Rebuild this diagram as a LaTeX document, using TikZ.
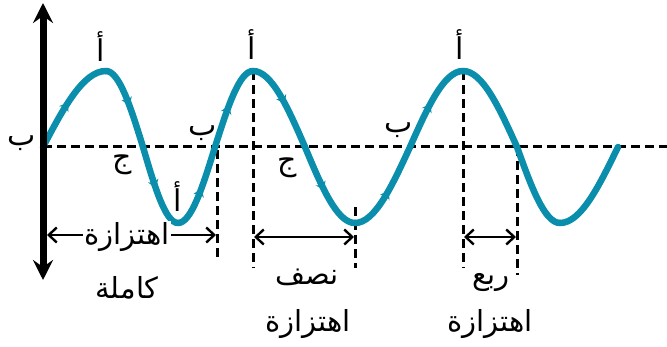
\documentclass[tikz,border=0pt]{standalone}
\usepackage{fontspec}
\newfontfamily\arabicfont[Script=Arabic]{DejaVu Sans}
\TeXXeTstate=1
\usetikzlibrary{arrows.meta,decorations.markings}
\definecolor{wave}{RGB}{10,142,172}

\begin{document}
\begin{tikzpicture}[x=1pt, y=-1pt,
  lbl/.style={font=\arabicfont\fontsize{29}{32}\selectfont, inner sep=1pt, fill=white},
  letter/.style={font=\arabicfont\fontsize{30}{32}\selectfont, inner sep=0pt},
  guide/.style={line width=3pt, dash pattern=on 9pt off 5pt},
  span/.style={line width=2.4pt, {Straight Barb[length=8pt,width=15pt]}-{Straight Barb[length=8pt,width=15pt]}},
  wline/.style={draw=wave, line width=6.5pt, line cap=round},
  mid/.style={postaction={decorate}, decoration={markings,
    mark=at position 0.5 with {\arrow[wave]{Stealth[length=8pt,width=11pt]}}}},
  plain/.style={}]
  \useasboundingbox (0,0) rectangle (667,347);

  % wave points
  \coordinate (z0) at (43,147);  \coordinate (p1) at (106,71);
  \coordinate (z1) at (143,147); \coordinate (t1) at (178,223);
  \coordinate (z2) at (215,147); \coordinate (p2) at (253,71);
  \coordinate (z3) at (305,147); \coordinate (t2) at (355,223);
  \coordinate (z4) at (410,147); \coordinate (p3) at (463,71);
  \coordinate (z5) at (517,147); \coordinate (t3) at (560,223);
  \coordinate (z6) at (618,147);

  % axes and guides
  \coordinate (axend) at (667,147);
  \draw[guide] (z0) -- (axend);
  \coordinate (g1a) at (217,150); \coordinate (g1b) at (217,258);
  \coordinate (g2b) at (253,268);
  \coordinate (g3a) at (355,207); \coordinate (g3b) at (355,268);
  \coordinate (g4b) at (463,268);
  \coordinate (g5b) at (517,275);
  \draw[guide] (g1a) -- (g1b);
  \draw[guide] (p2) -- (g2b);
  \draw[guide] (g3a) -- (g3b);
  \draw[guide] (p3) -- (g4b);
  \draw[guide] (z5) -- (g5b);

  \foreach \a/\op/\b/\m in {z0/sin/p1/mid, p1/cos/z1/mid, z1/sin/t1/mid, t1/cos/z2/mid,
      z2/sin/p2/mid, p2/cos/z3/mid, z3/sin/t2/mid, t2/cos/z4/mid,
      z4/sin/p3/mid, p3/cos/z5/plain, z5/sin/t3/plain, t3/cos/z6/plain}
    \draw[wline, \m] (\a) \op (\b);

  \coordinate (ytop) at (43,3);
  \coordinate (ybot) at (43,280);
  \draw[line width=7pt, {Stealth[length=20pt,width=20pt,inset=7pt]}-{Stealth[length=20pt,width=20pt,inset=7pt]}] (ybot) -- (ytop);

  % letters
  \node[letter] (a1) at (101,47) {\beginR أ\endR};
  \node[letter] (a2) at (252,45) {\beginR أ\endR};
  \node[letter] (a3) at (460,45) {\beginR أ\endR};
  \node[letter] (a4) at (178,197) {\beginR أ\endR};
  \node[letter] (b1) at (22,143) {\beginR ب\endR};
  \node[letter] (b2) at (203,133) {\beginR ب\endR};
  \node[letter] (b3) at (399,130) {\beginR ب\endR};
  \node[letter] (c1) at (122,165) {\beginR ج\endR};
  \node[letter] (c2) at (287,168) {\beginR ج\endR};

  % spans
  \coordinate (s1a) at (47,235);  \coordinate (s1b) at (216,235);
  \coordinate (s2a) at (254,237); \coordinate (s2b) at (354,237);
  \coordinate (s3a) at (464,237); \coordinate (s3b) at (516,237);
  \draw[span] (s1a) -- (s1b);
  \draw[span] (s2a) -- (s2b);
  \draw[span] (s3a) -- (s3b);

  \node[lbl] (full1) at (127,237) {\beginR اهتزازة\endR};
  \node[lbl] (full2) at (127,288) {\beginR كاملة\endR};
  \node[lbl] (half1) at (307,277) {\beginR نصف\endR};
  \node[lbl] (half2) at (308,324) {\beginR اهتزازة\endR};
  \node[lbl] (qtr1) at (491,283) {\beginR ربع\endR};
  \node[lbl] (qtr2) at (490,324) {\beginR اهتزازة\endR};
\end{tikzpicture}
\end{document}
